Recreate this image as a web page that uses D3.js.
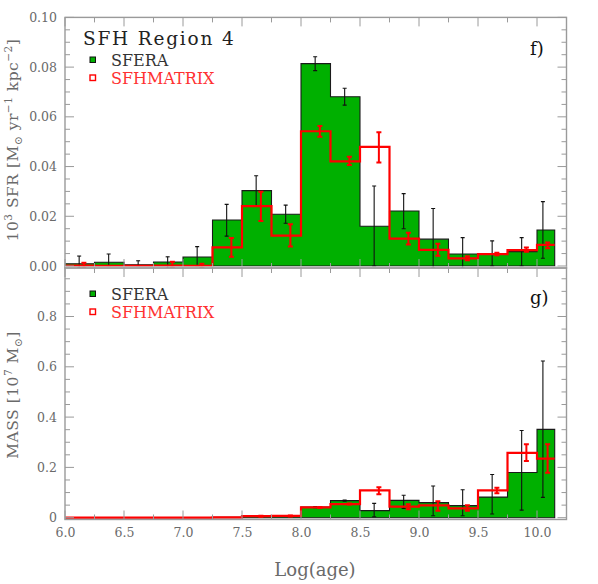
<!DOCTYPE html>
<html>
<head>
<meta charset="utf-8">
<script src="https://cdn.jsdelivr.net/npm/d3@7/dist/d3.min.js"></script>
<style>
  html, body { margin: 0; padding: 0; background: #fff; }
  svg { display: block; }
  text { font-family: "DejaVu Serif", "Liberation Serif", serif; }
</style>
</head>
<body>
<svg id="chart" width="598" height="584"></svg>
<script>
// ---------------- DATA ----------------
const ageEdges = [6.0, 6.25, 6.5, 6.75, 7.0, 7.25, 7.5, 7.75, 8.0, 8.25, 8.5, 8.75, 9.0, 9.25, 9.5, 9.75, 10.0, 10.15];
const sferaErrX  = [6.12, 6.37, 6.62, 6.87, 7.12, 7.37, 7.62, 7.87, 8.12, 8.37, 8.62, 8.87, 9.12, 9.37, 9.62, 9.87, 10.05];
const matrixErrX = [6.16, 6.41, 6.66, 6.91, 7.16, 7.41, 7.66, 7.91, 8.16, 8.41, 8.66, 8.91, 9.16, 9.41, 9.66, 9.91, 10.09];

// panel f) : 10^3 SFR [Msun yr^-1 kpc^-2]
const sferaSFR   = [0.0009, 0.0015, 0.0005, 0.0016, 0.0036, 0.0185, 0.0303, 0.0208, 0.0814, 0.0681, 0.0160, 0.0221, 0.0108, 0.0048, 0.0048, 0.0058, 0.0145];
const sferaSFRlo = [-0.001, 0, 0, -0.001, 0, 0.0120, 0.0243, 0.0172, 0.0786, 0.0647, 0, 0.0150, -0.001, -0.001, 0, 0, 0.0031];
const sferaSFRhi = [0.0040, 0.0048, 0.0021, 0.0037, 0.0078, 0.0248, 0.0363, 0.0245, 0.0842, 0.0715, 0.0322, 0.0291, 0.0231, 0.0114, 0.0101, 0.0114, 0.0259];
const matrixSFR   = [0.0002, 0.0001, 0.0001, 0.0002, 0.0001, 0.0075, 0.0241, 0.0122, 0.0542, 0.0421, 0.0479, 0.0110, 0.0065, 0.0031, 0.0048, 0.0064, 0.0085];
const matrixSFRlo = [-0.0007, null, null, -0.0007, -0.0009, 0.0037, 0.0181, 0.0078, 0.0520, 0.0406, 0.0416, 0.0086, 0.0041, 0.0023, 0.0043, 0.0057, 0.0071];
const matrixSFRhi = [0.0013, null, null, 0.0017, 0.0009, 0.0113, 0.0299, 0.0168, 0.0563, 0.0439, 0.0538, 0.0134, 0.0090, 0.0039, 0.0053, 0.0074, 0.0095];

// panel g) : MASS [10^7 Msun]
const sferaMass   = [0.0001, 0.0002, 0.0001, 0.0003, 0.0008, 0.002, 0.005, 0.006, 0.042, 0.068, 0.028, 0.069, 0.060, 0.048, 0.082, 0.180, 0.351];
const sferaMassLo = [null, null, null, null, null, null, null, null, 0.040, 0.066, 0.004, 0.037, 0.008, 0.008, 0.015, 0.030, 0.081];
const sferaMassHi = [null, null, null, null, null, null, null, null, 0.044, 0.070, 0.057, 0.089, 0.126, 0.111, 0.172, 0.347, 0.623];
const matrixMass   = [0, 0, 0, 0, 0, 0.001, 0.006, 0.007, 0.041, 0.054, 0.109, 0.044, 0.049, 0.037, 0.109, 0.258, 0.235];
const matrixMassLo = [null, null, null, null, null, null, 0.004, 0.005, 0.039, 0.052, 0.093, 0.034, 0.028, 0.028, 0.097, 0.225, 0.179];
const matrixMassHi = [null, null, null, null, null, null, 0.008, 0.009, 0.043, 0.056, 0.121, 0.053, 0.065, 0.050, 0.119, 0.292, 0.292];

const xTicksMajor = [6.0, 6.5, 7.0, 7.5, 8.0, 8.5, 9.0, 9.5, 10.0];
const xTicksMinor = [6.25, 6.75, 7.25, 7.75, 8.25, 8.75, 9.25, 9.75];
const yTopTicks = [0.00, 0.02, 0.04, 0.06, 0.08, 0.10];
const yBotTicks = [0, 0.2, 0.4, 0.6, 0.8];

// ---------------- LAYOUT ----------------
const svg = d3.select("#chart");
const L = 65, R = 566.5;
const topY0 = 17.4, midY = 268, botY1 = 519.5;
const GREEN = "#00b000", RED = "#ff0000", AX = "#9a9a9a", LBL = "#6a6a6a";

const x = d3.scaleLinear().domain([6, 10.25]).range([L, R]);
const yTop = d3.scaleLinear().domain([0, 0.1]).range([266, topY0]);
const yBot = d3.scaleLinear().domain([0, 1]).range([517.7, 266.2]);

function clipY(v, y, lo, hi) { return Math.max(lo, Math.min(hi, y(v))); }

function drawPanel(g, y, yTop_, yBottom_, sv, slo, shi, mv, mlo, mhi, yTicksMajor, yMinorStep, yMinorMax, yFmt, showXLabels, tag) {
  const clipId = "clip" + tag;
  svg.append("clipPath").attr("id", clipId).append("rect")
    .attr("x", L).attr("y", yTop_).attr("width", R - L).attr("height", yBottom_ - yTop_);
  const pg = g.append("g").attr("clip-path", `url(#${clipId})`);
  const n = sv.length;

  // green histogram
  let p = `M${x(ageEdges[0])},${y(0)}`;
  for (let i = 0; i < n; i++) {
    p += `V${y(sv[i])}H${x(ageEdges[i + 1])}`;
  }
  p += `V${y(0)}Z`;
  pg.append("path").attr("d", p).attr("fill", GREEN).attr("stroke", "#1a1a1a").attr("stroke-width", 1.1);

  // black error bars
  for (let i = 0; i < n; i++) {
    if (slo[i] == null) continue;
    const xx = x(sferaErrX[i]);
    const y1 = clipY(slo[i], y, yTop_, yBottom_), y2 = clipY(shi[i], y, yTop_, yBottom_);
    pg.append("line").attr("x1", xx).attr("x2", xx).attr("y1", y1).attr("y2", y2).attr("stroke", "#111").attr("stroke-width", 1.1);
    [y1, y2].forEach(yy => pg.append("line").attr("x1", xx - 2).attr("x2", xx + 2).attr("y1", yy).attr("y2", yy).attr("stroke", "#111").attr("stroke-width", 1.1));
  }

  // red step
  let q = `M${x(ageEdges[0])},${y(mv[0])}`;
  for (let i = 0; i < n; i++) {
    q += `V${y(mv[i])}H${x(ageEdges[i + 1])}`;
  }
  pg.append("path").attr("d", q).attr("fill", "none").attr("stroke", RED).attr("stroke-width", 2.2);

  // red error bars
  for (let i = 0; i < n; i++) {
    if (mlo[i] == null) continue;
    const xx = x(matrixErrX[i]);
    const y1 = clipY(mlo[i], y, yTop_, yBottom_), y2 = clipY(mhi[i], y, yTop_, yBottom_);
    pg.append("line").attr("x1", xx).attr("x2", xx).attr("y1", y1).attr("y2", y2).attr("stroke", RED).attr("stroke-width", 2);
    [y1, y2].forEach(yy => pg.append("line").attr("x1", xx - 2.5).attr("x2", xx + 2.5).attr("y1", yy).attr("y2", yy).attr("stroke", RED).attr("stroke-width", 2));
  }

  // frame
  g.append("rect").attr("x", L).attr("y", yTop_).attr("width", R - L).attr("height", yBottom_ - yTop_)
    .attr("fill", "none").attr("stroke", AX).attr("stroke-width", 1.4);

  // x ticks (top & bottom, inward)
  const tk = g.append("g").attr("stroke", AX).attr("stroke-width", 1);
  xTicksMajor.forEach(t => {
    tk.append("line").attr("x1", x(t)).attr("x2", x(t)).attr("y1", yTop_).attr("y2", yTop_ + 9);
    tk.append("line").attr("x1", x(t)).attr("x2", x(t)).attr("y1", yBottom_).attr("y2", yBottom_ - 9);
  });
  xTicksMinor.forEach(t => {
    tk.append("line").attr("x1", x(t)).attr("x2", x(t)).attr("y1", yTop_).attr("y2", yTop_ + 5);
    tk.append("line").attr("x1", x(t)).attr("x2", x(t)).attr("y1", yBottom_).attr("y2", yBottom_ - 5);
  });
  // y ticks (left & right, inward)
  const yMinor = d3.range(0, yMinorMax + 1e-9, yMinorStep);
  yMinor.forEach(v => {
    const yy = y(v);
    if (yy < yTop_ - 0.5 || yy > yBottom_ + 0.5) return;
    const isMajor = yTicksMajor.some(t => Math.abs(t - v) < 1e-9);
    const len = isMajor ? 9 : 5;
    tk.append("line").attr("x1", L).attr("x2", L + len).attr("y1", yy).attr("y2", yy);
    tk.append("line").attr("x1", R).attr("x2", R - len).attr("y1", yy).attr("y2", yy);
  });

  // y labels
  const ax = d3.axisLeft(y).tickValues(yTicksMajor).tickFormat(yFmt).tickSize(0).tickPadding(8);
  const ag = g.append("g").attr("transform", `translate(${L},0)`).call(ax);
  ag.select(".domain").remove();
  ag.selectAll("text").attr("fill", LBL).attr("font-size", 12.5).attr("font-family", '"DejaVu Serif", serif');

  if (showXLabels) {
    const xa = d3.axisBottom(x).tickValues(xTicksMajor).tickFormat(d3.format(".1f")).tickSize(0).tickPadding(9);
    const xg = g.append("g").attr("transform", `translate(0,${yBottom_})`).call(xa);
    xg.select(".domain").remove();
    xg.selectAll("text").attr("fill", LBL).attr("font-size", 12.5).attr("font-family", '"DejaVu Serif", serif');
  }
}

const gTop = svg.append("g");
drawPanel(gTop, yTop, topY0, midY, sferaSFR, sferaSFRlo, sferaSFRhi, matrixSFR, matrixSFRlo, matrixSFRhi,
  yTopTicks, 0.005, 0.1, d3.format(".2f"), false, "T");
gTop.append("line").attr("x1", L).attr("x2", R).attr("y1", yTop(0) + 0.8).attr("y2", yTop(0) + 0.8).attr("stroke", "#cfcfcf").attr("stroke-width", 1);

const gBot = svg.append("g");
drawPanel(gBot, yBot, midY, botY1, sferaMass, sferaMassLo, sferaMassHi, matrixMass, matrixMassLo, matrixMassHi,
  yBotTicks, 0.05, 1.0, v => v === 0 ? "0" : d3.format(".1f")(v), true, "B");

// ---------------- TEXT ----------------
function rich(sel, parts, size) {
  let shift = 0;
  parts.forEach(([t, s]) => {
    const sz = s === 0 ? size : size * 0.68;
    const target = s * size;
    sel.append("tspan").attr("dy", -(target - shift)).attr("font-size", sz).text(t);
    shift = target;
  });
  if (shift !== 0) sel.append("tspan").attr("dy", shift).text("");
}

const t1 = svg.append("text").attr("transform", "translate(18,140) rotate(-90)").attr("text-anchor", "middle")
  .attr("fill", LBL).attr("font-size", 15.5).attr("letter-spacing", 0.5);
rich(t1, [["10", 0], ["3", 0.42], [" SFR [M", 0], ["⊙", -0.25], [" yr", 0], ["−1", 0.42], [" kpc", 0], ["−2", 0.42], ["]", 0]], 15.5);

const t2 = svg.append("text").attr("transform", "translate(18,395) rotate(-90)").attr("text-anchor", "middle")
  .attr("fill", LBL).attr("font-size", 15.5).attr("letter-spacing", 0.5);
rich(t2, [["MASS [10", 0], ["7", 0.42], [" M", 0], ["⊙", -0.25], ["]", 0]], 15.5);

svg.append("text").attr("x", 315).attr("y", 576).attr("text-anchor", "middle").attr("fill", LBL)
  .attr("font-size", 18).text("Log(age)");

svg.append("text").attr("x", 83).attr("y", 45).attr("fill", "#222").attr("font-size", 18.5)
  .attr("letter-spacing", 1.8).text("SFH Region 4");

function legend(yBase) {
  svg.append("rect").attr("x", 90).attr("y", yBase - 8.5).attr("width", 5.5).attr("height", 5.5)
    .attr("fill", GREEN).attr("stroke", "#111").attr("stroke-width", 1);
  svg.append("text").attr("x", 111).attr("y", yBase).attr("fill", "#333").attr("font-size", 16).text("SFERA");
  svg.append("rect").attr("x", 90).attr("y", yBase + 18 - 8.5).attr("width", 5.5).attr("height", 5.5)
    .attr("fill", "#fff").attr("stroke", RED).attr("stroke-width", 1.4);
  svg.append("text").attr("x", 111).attr("y", yBase + 18).attr("fill", "#ff3030").attr("font-size", 16).text("SFHMATRIX");
}
legend(65.5);
legend(299.5);

svg.append("text").attr("x", 530).attr("y", 55).attr("fill", "#111").attr("font-size", 18).text("f)");
svg.append("text").attr("x", 530).attr("y", 304).attr("fill", "#111").attr("font-size", 18).text("g)");
</script>
</body>
</html>
